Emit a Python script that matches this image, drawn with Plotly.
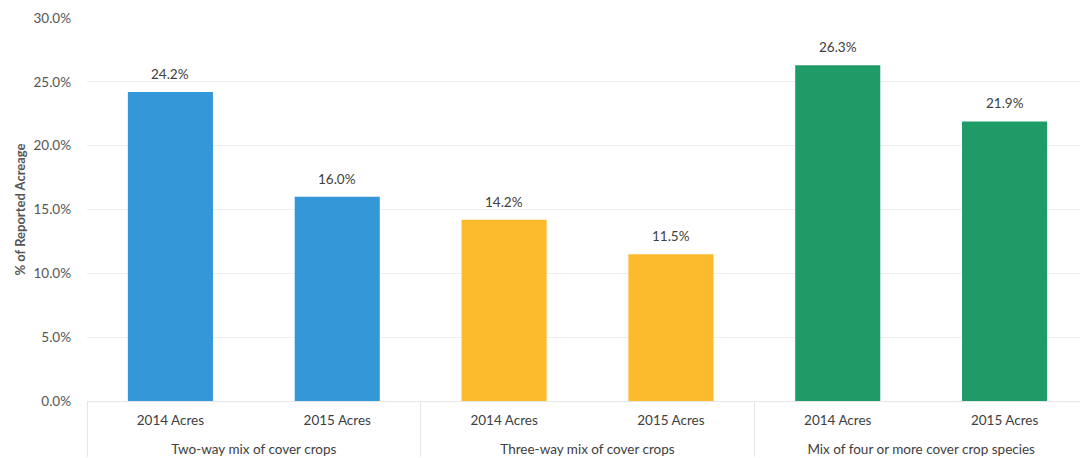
import plotly.graph_objects as go

groups = ["Two-way mix of cover crops", "Two-way mix of cover crops",
          "Three-way mix of cover crops", "Three-way mix of cover crops",
          "Mix of four or more cover crop species", "Mix of four or more cover crop species"]
years = ["2014 Acres", "2015 Acres", "2014 Acres", "2015 Acres", "2014 Acres", "2015 Acres"]
values = [24.2, 16.0, 14.2, 11.5, 26.3, 21.9]
colors = ["#3498d8", "#3498d8", "#fbbb2c", "#fbbb2c", "#1f9b68", "#1f9b68"]
y_ticks = [0, 5, 10, 15, 20, 25, 30]

font_family = "Lato, 'Open Sans', sans-serif"

# an extra (blank) line under each year label pushes the group row further down
year_labels = [y + "<br> " for y in years]

fig = go.Figure(go.Bar(
    x=[groups, year_labels],
    y=values,
    marker=dict(color=colors, line=dict(width=0)),
))

for i, v in enumerate(values):
    fig.add_annotation(
        x=i, y=v, xref="x", yref="y",
        text=f"{v:.1f}%", showarrow=False,
        yanchor="middle", yshift=18,
        font=dict(size=13.5, color="#404040", family=font_family),
    )

# page body has an 8px margin, so the figure is sized to fit the window
fig.update_layout(
    width=1080, height=450,
    margin=dict(l=79, r=0, t=10, b=57),
    plot_bgcolor="white", paper_bgcolor="white",
    bargap=0.49,
    showlegend=False,
    font=dict(family=font_family, size=13.5, color="#555555"),
    xaxis=dict(
        type="multicategory",
        automargin=False,
        showgrid=False,
        showline=True, linecolor="#e6e6e6", linewidth=1,
        showdividers=True, dividercolor="#e6e6e6", dividerwidth=1,
        tickfont=dict(size=13.5, color="#404040"),
        ticks="",
        ticklabelstandoff=7,
    ),
    yaxis=dict(
        automargin=False,
        range=[0, 30],
        tickvals=y_ticks,
        ticktext=[f"{v:.1f}%" for v in y_ticks],
        showgrid=True, gridcolor="#eeeeee", gridwidth=1,
        zeroline=False,
        showline=False,
        ticks="",
        ticklabelstandoff=15,
        tickfont=dict(size=13.5, color="#555555"),
        title=dict(text="<b>% of Reported Acreage</b>", font=dict(size=13, color="#555555"), standoff=4),
    ),
)

fig.write_html("out.html")
